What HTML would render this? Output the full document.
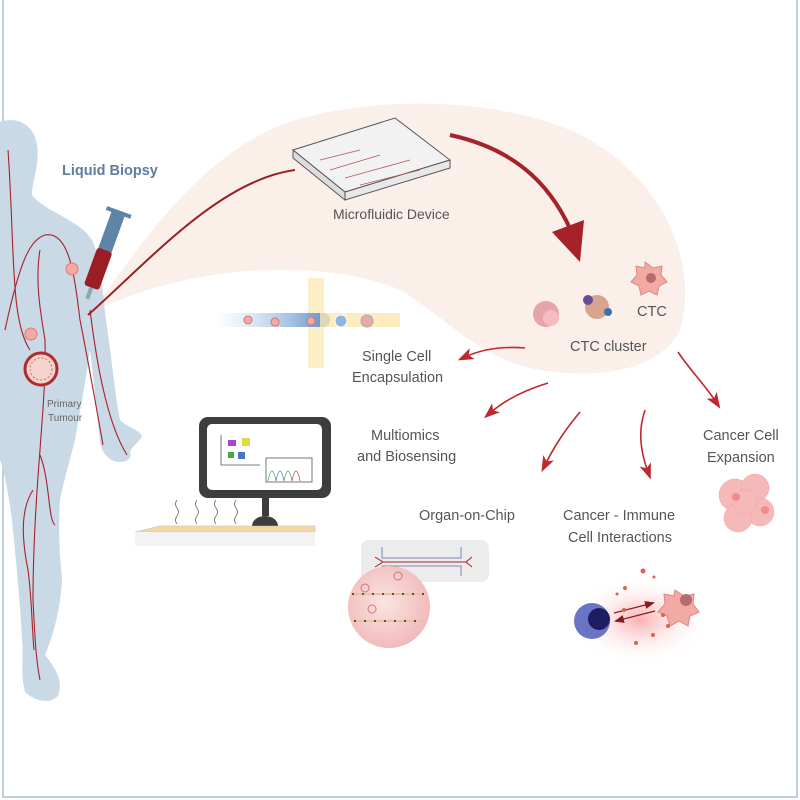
<!DOCTYPE html>
<html><head><meta charset="utf-8"><style>
html,body{margin:0;padding:0;background:#fff;}
svg{display:block;}
</style></head><body>
<svg width="800" height="800" viewBox="0 0 800 800" xmlns="http://www.w3.org/2000/svg" font-family="Liberation Sans, sans-serif">
<defs>
<marker id="ah" markerWidth="16" markerHeight="12" refX="8" refY="6" orient="auto" markerUnits="userSpaceOnUse"><path d="M0,0 L16,6 L0,12 L4,6Z" fill="#c0282d"/></marker>
<marker id="ah2" markerWidth="10" markerHeight="8" refX="8" refY="4" orient="auto" markerUnits="userSpaceOnUse"><path d="M0,0 L10,4 L0,8Z" fill="#8b1a1f"/></marker>
<radialGradient id="rg" cx="0.5" cy="0.5" r="0.5"><stop offset="0" stop-color="#f9b0b0"/><stop offset="1" stop-color="#fff" stop-opacity="0"/></radialGradient>
<radialGradient id="org" cx="0.45" cy="0.45" r="0.6"><stop offset="0" stop-color="#fbe4e4"/><stop offset="1" stop-color="#f0b7b7"/></radialGradient>
<linearGradient id="bl" x1="0" x2="1"><stop offset="0" stop-color="#a9c6e8" stop-opacity="0"/><stop offset="1" stop-color="#5d8dca"/></linearGradient>
</defs>
<rect x="0" y="0" width="800" height="800" fill="#fff"/>
<path d="M3,0 V797 H797 V0" fill="none" stroke="#a9c0d6" stroke-width="1.5"/>
<!-- peach blob -->
<path d="M92,312 C150,230 200,160 280,125 C380,90 520,100 590,140 C660,180 700,260 680,330 C660,370 600,380 540,370 C480,360 450,320 400,290 C330,260 200,260 92,312Z" fill="#fbefea"/>
<!-- body -->
<path d="M0,122 C18,116 34,125 37,145 C40,165 32,180 32,195 C45,212 80,220 92,240 C102,262 102,290 106,320 C112,360 115,395 120,420 C128,428 140,430 142,436 C138,444 132,446 130,452 C132,458 128,462 120,462 C108,462 100,450 100,440 C96,410 94,380 90,350 C86,380 80,410 75,440 C70,460 64,480 60,500 C58,530 60,560 62,580 C60,610 55,630 45,655 C55,668 64,680 58,696 C50,704 36,702 25,692 C20,672 24,658 22,640 C20,600 16,560 12,520 C8,490 4,470 0,460Z" fill="#c9d9e6"/>
<!-- vessels -->
<g fill="none" stroke="#a8212a" stroke-width="1.1">
<path d="M8,150 C15,250 10,320 30,350"/>
<path d="M5,330 C20,260 30,240 45,235 C70,230 75,280 80,320 C88,360 95,400 103,445"/>
<path d="M90,310 C95,350 105,420 127,455"/>
<path d="M40,250 C35,280 40,310 45,340 C46,380 42,420 40,450 C36,500 33,550 33,600 C35,640 36,660 40,680"/>
<path d="M40,455 C50,480 48,520 55,525"/>
<path d="M33,490 C20,510 22,540 28,570 C32,600 32,630 34,650"/>
</g>
<!-- tumour -->
<circle cx="41" cy="369" r="16" fill="#f6d3cc" stroke="#b22a2a" stroke-width="3"/>
<circle cx="41" cy="369" r="11" fill="none" stroke="#c0706a" stroke-width="1" stroke-dasharray="2,2"/>
<circle cx="72" cy="269" r="6" fill="#f4a9a3" stroke="#e07a78"/>
<circle cx="31" cy="334" r="6" fill="#f4a9a3" stroke="#e07a78"/>
<text x="47" y="407" font-size="10" fill="#666">Primary</text>
<text x="48" y="421" font-size="10" fill="#666">Tumour</text>
<text x="62" y="175" font-size="14.5" font-weight="bold" fill="#5c7ea0">Liquid Biopsy</text>
<!-- syringe -->
<g transform="rotate(20 105 250)">
<rect x="98" y="210" width="14" height="45" fill="#5e84a6"/>
<rect x="92" y="208" width="26" height="4" fill="#5e84a6"/>
<rect x="97" y="250" width="16" height="40" rx="3" fill="#9b1e24"/>
<rect x="103" y="290" width="4" height="12" fill="#8aa"/>
</g>
<!-- tube -->
<path d="M88,315 C150,260 220,180 295,170" fill="none" stroke="#9b1e24" stroke-width="2"/>
<!-- device -->
<path d="M293,150 L395,118 L450,160 L345,192Z" fill="#f2f2f2" stroke="#555" stroke-width="1"/>
<path d="M293,150 L345,192 L345,200 L293,158Z" fill="#ddd" stroke="#555" stroke-width="1"/>
<path d="M345,192 L450,160 L450,168 L345,200Z" fill="#e8e8e8" stroke="#555" stroke-width="1"/>
<path d="M320,160 L360,150 M330,170 L380,155 M345,178 L410,160 M360,185 L420,170" stroke="#b5555a" stroke-width="0.8"/>
<g font-size="14" fill="#555">
<text x="333" y="219">Microfluidic Device</text>
</g>
<!-- big arrow -->
<path d="M450,135 C520,150 555,190 575,240" fill="none" stroke="#a52228" stroke-width="4"/>
<path d="M552,232 L580,262 L584,220Z" fill="#a52228"/>
<!-- CTC area -->
<circle cx="546" cy="314" r="13" fill="#e7a4a8"/><circle cx="551" cy="318" r="8" fill="#f6bbbf"/>
<circle cx="597" cy="307" r="12" fill="#d9a48e"/><circle cx="588" cy="300" r="5" fill="#6a4a9a"/><circle cx="608" cy="312" r="4" fill="#3b6fb0"/>
<path d="M645,262 l8,6 9,-2 -1,9 6,7 -8,4 -2,9 -8,-4 -8,4 -2,-9 -8,-4 6,-7 -1,-9 9,2Z" fill="#f2aaa3" stroke="#d98a84"/>
<circle cx="651" cy="278" r="5" fill="#b56c70"/>
<!-- encapsulation channel -->
<rect x="308" y="278" width="16" height="90" fill="#fbeab8" opacity="0.8"/>
<rect x="215" y="313" width="115" height="14" rx="7" fill="url(#bl)"/>
<rect x="320" y="313" width="80" height="14" fill="#fbe7ae" opacity="0.8"/>
<circle cx="248" cy="320" r="4" fill="#f4a9a3" stroke="#c77"/><circle cx="275" cy="322" r="4" fill="#f4a9a3" stroke="#c77"/><circle cx="311" cy="321" r="4" fill="#f4a9a3" stroke="#c77"/>
<circle cx="341" cy="321" r="6" fill="#8fb5e3" stroke="#fff"/><circle cx="367" cy="321" r="6" fill="#e6aaa8" stroke="#aaa"/>
<g font-size="14.5" fill="#555">
<text x="637" y="316">CTC</text>
<text x="570" y="351">CTC cluster</text>
<text x="362" y="361">Single Cell</text>
<text x="352" y="382">Encapsulation</text>
<text x="371" y="440">Multiomics</text>
<text x="357" y="461">and Biosensing</text>
<text x="703" y="440">Cancer Cell</text>
<text x="707" y="462">Expansion</text>
<text x="419" y="520">Organ-on-Chip</text>
<text x="563" y="520">Cancer - Immune</text>
<text x="568" y="542">Cell Interactions</text>
</g>
<!-- arrows -->
<g fill="none" stroke="#c0282d" stroke-width="1.6" marker-end="url(#ah)">
<path d="M525,348 C500,346 480,350 465,357"/>
<path d="M548,383 C525,390 505,400 490,413"/>
<path d="M580,412 C565,430 555,445 545,465"/>
<path d="M645,410 C638,430 640,450 648,472"/>
<path d="M678,352 C690,370 705,385 716,402"/>
</g>
<!-- expansion cluster -->
<g fill="#f6b9b9" stroke="#f3a0a0" stroke-width="0.5">
<circle cx="735" cy="495" r="16"/><circle cx="755" cy="488" r="14"/><circle cx="760" cy="512" r="14"/><circle cx="738" cy="518" r="14"/><circle cx="745" cy="502" r="12"/>
</g>
<circle cx="736" cy="497" r="4" fill="#ef8c8c"/><circle cx="765" cy="510" r="4" fill="#ef8c8c"/>
<!-- computer -->
<rect x="199" y="417" width="132" height="81" rx="9" fill="#3d3d3d"/>
<rect x="207" y="424" width="115" height="66" rx="5" fill="#fff"/>
<path d="M221,435 V465 H260" stroke="#555" fill="none" stroke-width="0.8"/>
<rect x="266" y="458" width="46" height="24" fill="none" stroke="#555" stroke-width="0.8"/>
<path d="M268,481 q4,-20 8,0" fill="none" stroke="#5a5" stroke-width="0.8"/>
<path d="M276,481 q4,-20 8,0" fill="none" stroke="#57c" stroke-width="0.8"/>
<path d="M284,481 q4,-20 8,0" fill="none" stroke="#4a8" stroke-width="0.8"/>
<path d="M292,481 q4,-20 8,0" fill="none" stroke="#c44" stroke-width="0.8"/>
<rect x="228" y="440" width="8" height="6" fill="#a4c"/><rect x="242" y="438" width="8" height="8" fill="#dd4"/><rect x="228" y="452" width="6" height="6" fill="#4a4"/><rect x="238" y="452" width="7" height="7" fill="#47c"/>
<rect x="262" y="498" width="7" height="18" fill="#3d3d3d"/>
<path d="M252,526 a13,10 0 0 1 26,0Z" fill="#3d3d3d"/>
<path d="M135,532 L160,526 H315 V532Z" fill="#f3d8a5" stroke="#bbb" stroke-width="0.5"/>
<rect x="135" y="532" width="180" height="14" fill="#f3f3f3"/>
<path d="M177,500 q-3,4 0,8 q3,4 0,8 q-3,4 0,8 M197,500 q-3,4 0,8 q3,4 0,8 q-3,4 0,8 M216,500 q-3,4 0,8 q3,4 0,8 q-3,4 0,8 M236,500 q-3,4 0,8 q3,4 0,8 q-3,4 0,8" fill="none" stroke="#666" stroke-width="0.8"/>
<!-- organ on chip -->
<rect x="361" y="540" width="128" height="42" rx="8" fill="#ececec"/>
<path d="M382,547 V558 H461 V547 M382,576 V566 H461 V576" stroke="#7b86c2" fill="none"/>
<path d="M375,557 L383,562 H466 L472,557 M375,567 L383,562 M466,562 L472,567" stroke="#a52228" fill="none"/>
<circle cx="389" cy="607" r="41" fill="url(#org)"/>
<path d="M352,594 H424 M354,621 H424" stroke="#e9c39d" stroke-width="2"/>
<path d="M352,594 H424 M354,621 H424" stroke="#6b4a3a" stroke-width="2" stroke-dasharray="2,8"/>
<circle cx="398" cy="576" r="4" fill="none" stroke="#c77"/><circle cx="365" cy="588" r="4" fill="none" stroke="#c77"/><circle cx="372" cy="609" r="4" fill="none" stroke="#c77"/>
<!-- immune interactions -->
<ellipse cx="640" cy="620" rx="70" ry="45" fill="url(#rg)"/>
<circle cx="592" cy="621" r="18" fill="#6a74c4"/><circle cx="599" cy="619" r="11" fill="#1e1c62"/>
<path d="M675,590 l9,6 10,-2 -1,10 6,8 -9,4 -2,10 -9,-5 -9,5 -3,-10 -9,-4 7,-8 -1,-10 10,2Z" fill="#f2aaa3" stroke="#d98a84"/>
<circle cx="686" cy="600" r="6" fill="#b56c70"/>
<path d="M614,613 L653,603" stroke="#8b1a1f" stroke-width="1.2" marker-end="url(#ah2)"/>
<path d="M655,611 L616,621" stroke="#8b1a1f" stroke-width="1.2" marker-end="url(#ah2)"/>
<g fill="#e0604f"><circle cx="643" cy="571" r="2.5"/><circle cx="625" cy="588" r="2"/><circle cx="624" cy="610" r="2"/><circle cx="617" cy="594" r="1.5"/><circle cx="653" cy="635" r="2"/><circle cx="636" cy="643" r="2"/><circle cx="668" cy="626" r="2"/><circle cx="654" cy="577" r="1.5"/><circle cx="663" cy="615" r="2"/></g>
</svg>
</body></html>
